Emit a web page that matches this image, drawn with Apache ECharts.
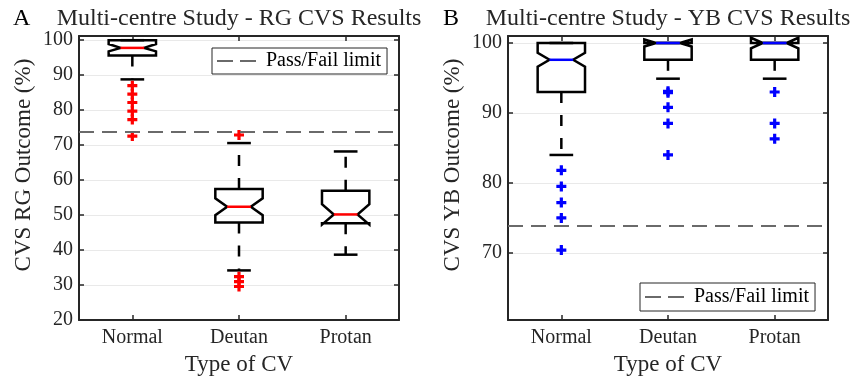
<!DOCTYPE html>
<html>
<head>
<meta charset="utf-8">
<script src="https://cdn.jsdelivr.net/npm/echarts@6/dist/echarts.min.js"></script>
<style>
html,body{margin:0;padding:0;background:#fff;}
#chart{width:854px;height:381px;}
</style>
</head>
<body>
<div id="chart"></div>
<script>
// ---------- data ----------
const categories = ['Normal', 'Deutan', 'Protan'];

// Panel A: RG CVS results
const rgWhiskerLow  = [88.8, 34.2, 38.7];
const rgQ1          = [95.6, 47.9, 47.7];
const rgNotchLow    = [96.8, 50.0, 47.3];
const rgMedian      = [97.8, 52.4, 50.2];
const rgNotchHigh   = [98.9, 54.8, 53.1];
const rgQ3          = [100.0, 57.5, 57.0];
const rgWhiskerHigh = [100.0, 70.6, 68.2];
const rgOutliersNormal = [87.0, 84.6, 82.2, 79.7, 77.3, 72.6];
const rgOutliersDeutan = [72.9, 32.4, 31.0, 29.6];
const rgOutliersProtan = [];
const rgTicks = [20, 30, 40, 50, 60, 70, 80, 90, 100];

// Panel B: YB CVS results
const ybWhiskerLow  = [84.0, 94.9, 94.9];
const ybQ1          = [93.0, 97.6, 97.6];
const ybNotchLow    = [96.6, 99.5, 99.25];
const ybMedian      = [97.6, 100.0, 100.0];
const ybNotchHigh   = [98.6, 100.5, 100.75];
const ybQ3          = [100.0, 100.0, 100.0];
const ybWhiskerHigh = [100.0, 100.0, 100.0];
const ybOutliersNormal = [81.8, 79.5, 77.2, 75.0, 70.4];
const ybOutliersDeutan = [93.1, 92.9, 90.8, 88.5, 84.0];
const ybOutliersProtan = [93.0, 88.5, 86.3];
const ybTicks = [70, 80, 90, 100];

const passFailLimit = 73.9;

// ---------- helpers ----------
const FONT = 'Liberation Serif';
const AX = '#262626';
function boxRows(wl, q1, nl, md, nh, q3, wh) {
  return categories.map((c, i) => [i, wl[i], q1[i], nl[i], md[i], nh[i], q3[i], wh[i]]);
}
function outlierRows(lists) {
  const rows = [];
  lists.forEach((lst, i) => lst.forEach(v => rows.push([i, v])));
  return rows;
}
function makeRender(medColor) {
  return function (params, api) {
    const c = api.value(0);
    const band = api.size([1, 0])[0];
    const hw = band * 0.222, iw = hw / 2, cw = hw / 2;
    const x = api.coord([c, api.value(4)])[0];
    const py = i => api.coord([c, api.value(i)])[1];
    const wlo = py(1), q1 = py(2), nlo = py(3), med = py(4), nhi = py(5), q3 = py(6), whi = py(7);
    const solid = {stroke: '#000', lineWidth: 2.5, fill: null};
    const dashed = {stroke: '#000', lineWidth: 2.5, lineDash: [11, 12], fill: null};
    const ch = [];
    if (q3 - whi > 0.5) ch.push({type: 'line', shape: {x1: x, y1: q3, x2: x, y2: whi}, style: dashed});
    if (wlo - q1 > 0.5) ch.push({type: 'line', shape: {x1: x, y1: q1, x2: x, y2: wlo}, style: dashed});
    ch.push({type: 'line', shape: {x1: x - cw, y1: whi, x2: x + cw, y2: whi}, style: solid});
    ch.push({type: 'line', shape: {x1: x - cw, y1: wlo, x2: x + cw, y2: wlo}, style: solid});
    ch.push({type: 'polygon', shape: {points: [
      [x - hw, q1], [x - hw, nlo], [x - iw, med], [x - hw, nhi], [x - hw, q3],
      [x + hw, q3], [x + hw, nhi], [x + iw, med], [x + hw, nlo], [x + hw, q1]
    ]}, style: {stroke: '#000', lineWidth: 2.5, fill: 'none', lineJoin: 'miter'}});
    ch.push({type: 'line', shape: {x1: x - iw, y1: med, x2: x + iw, y2: med}, style: {stroke: medColor, lineWidth: 2.5}});
    return {type: 'group', children: ch};
  };
}
const PLUS = 'path://M3.4,0H6.6V3.4H10V6.6H6.6V10H3.4V6.6H0V3.4H3.4Z';
const DASH_ICON = 'path://M0,0H16V2H0Z M23,0H39V2H23Z';

function xAxes(grid) {
  return [{
    gridIndex: grid, type: 'category', data: categories, position: 'bottom',
    axisLine: {show: true, lineStyle: {color: AX, width: 2}},
    axisTick: {show: true, inside: true, alignWithLabel: true, length: 5, lineStyle: {color: AX, width: 1.5}},
    axisLabel: {fontFamily: FONT, fontSize: 20, color: AX, margin: 8},
    splitLine: {show: false},
    name: 'Type of CV', nameLocation: 'middle', nameGap: 32,
    nameTextStyle: {fontFamily: FONT, fontSize: 23, color: AX}
  }, {
    gridIndex: grid, type: 'category', data: categories, position: 'top',
    axisLine: {show: true, lineStyle: {color: AX, width: 2}},
    axisTick: {show: true, inside: true, alignWithLabel: true, length: 5, lineStyle: {color: AX, width: 1.5}},
    axisLabel: {show: false}, splitLine: {show: false}
  }];
}
function yAxes(grid, min, max, ticks, name) {
  return [{
    gridIndex: grid, type: 'value', min: min, max: max, position: 'left',
    axisLine: {show: true, lineStyle: {color: AX, width: 2}},
    axisTick: {show: true, inside: true, length: 5, customValues: ticks, lineStyle: {color: AX, width: 1.5}},
    axisLabel: {fontFamily: FONT, fontSize: 20, color: AX, margin: 6, customValues: ticks},
    splitLine: {show: true, lineStyle: {color: '#e9e9e9', width: 1}},
    name: name, nameLocation: 'middle', nameGap: 44, nameRotate: 90,
    nameTextStyle: {fontFamily: FONT, fontSize: 23, color: AX, padding: [0, 0, 0, 26]}
  }, {
    gridIndex: grid, type: 'value', min: min, max: max, position: 'right',
    axisLine: {show: true, lineStyle: {color: AX, width: 2}},
    axisTick: {show: true, inside: true, length: 5, customValues: ticks, lineStyle: {color: AX, width: 1.5}},
    axisLabel: {show: false, customValues: ticks}, splitLine: {show: false}
  }];
}
function legendFor(left, top, pad) {
  return {
    left: left, top: top, data: ['Pass/Fail limit'], selectedMode: false,
    icon: DASH_ICON, itemWidth: 39, itemHeight: 2,
    borderColor: AX, borderWidth: 1, backgroundColor: '#fff', borderRadius: 0,
    padding: pad,
    textStyle: {fontFamily: FONT, fontSize: 20, color: '#000', padding: [0, 0, 0, 5]}
  };
}
function passFailSeries(xi, yi) {
  return {
    type: 'line', name: 'Pass/Fail limit', xAxisIndex: xi, yAxisIndex: yi,
    data: [], color: '#6a6a6a', symbol: 'none',
    lineStyle: {color: '#6a6a6a', width: 2, type: [15, 8]},
    markLine: {
      silent: true, symbol: 'none', animation: false,
      label: {show: false},
      lineStyle: {color: '#6a6a6a', width: 2, type: [15, 8]},
      data: [{yAxis: passFailLimit}]
    },
    z: 1
  };
}

const option = {
  animation: false,
  backgroundColor: '#fff',
  title: [
    {text: 'A', left: 13, top: 7, padding: 0, textStyle: {fontFamily: FONT, fontSize: 24, fontWeight: 'normal', color: '#000'}},
    {text: 'Multi-centre Study - RG CVS Results', left: 239, top: 7, textAlign: 'center', padding: 0,
     textStyle: {fontFamily: FONT, fontSize: 24, fontWeight: 'normal', color: '#262626'}},
    {text: 'B', left: 443, top: 7, padding: 0, textStyle: {fontFamily: FONT, fontSize: 24, fontWeight: 'normal', color: '#000'}},
    {text: 'Multi-centre Study - YB CVS Results', left: 668, top: 7, textAlign: 'center', padding: 0,
     textStyle: {fontFamily: FONT, fontSize: 24, fontWeight: 'normal', color: '#262626'}}
  ],
  legend: [legendFor(212, 48, [3, 6, 3, 5]), legendFor(640, 283, [4, 6, 4, 5])],
  grid: [
    {left: 79, right: 455, top: 36, bottom: 60, containLabel: false},
    {left: 508, right: 26, top: 36, bottom: 60, containLabel: false}
  ],
  xAxis: [...xAxes(0), ...xAxes(1)],
  yAxis: [...yAxes(0, 20, 101.2, rgTicks, 'CVS RG Outcome (%)'), ...yAxes(1, 60.4, 101, ybTicks, 'CVS YB Outcome (%)')],
  series: [
    passFailSeries(0, 0),
    {
      type: 'custom', name: 'RG boxes', xAxisIndex: 0, yAxisIndex: 0,
      renderItem: makeRender('#ff0000'),
      encode: {x: 0, y: [1, 2, 3, 4, 5, 6, 7]},
      data: boxRows(rgWhiskerLow, rgQ1, rgNotchLow, rgMedian, rgNotchHigh, rgQ3, rgWhiskerHigh),
      z: 3
    },
    {
      type: 'scatter', name: 'RG outliers', xAxisIndex: 0, yAxisIndex: 0,
      symbol: PLUS, symbolSize: 10, itemStyle: {color: '#ff0000', opacity: 1},
      data: outlierRows([rgOutliersNormal, rgOutliersDeutan, rgOutliersProtan]), z: 4
    },
    passFailSeries(2, 2),
    {
      type: 'custom', name: 'YB boxes', xAxisIndex: 2, yAxisIndex: 2,
      renderItem: makeRender('#0000ff'),
      encode: {x: 0, y: [1, 2, 3, 4, 5, 6, 7]},
      data: boxRows(ybWhiskerLow, ybQ1, ybNotchLow, ybMedian, ybNotchHigh, ybQ3, ybWhiskerHigh),
      z: 3
    },
    {
      type: 'scatter', name: 'YB outliers', xAxisIndex: 2, yAxisIndex: 2,
      symbol: PLUS, symbolSize: 10, itemStyle: {color: '#0000ff', opacity: 1},
      data: outlierRows([ybOutliersNormal, ybOutliersDeutan, ybOutliersProtan]), z: 4
    }
  ]
};
const chart = echarts.init(document.getElementById('chart'), null, {renderer: 'canvas'});
chart.setOption(option);
</script>
</body>
</html>
